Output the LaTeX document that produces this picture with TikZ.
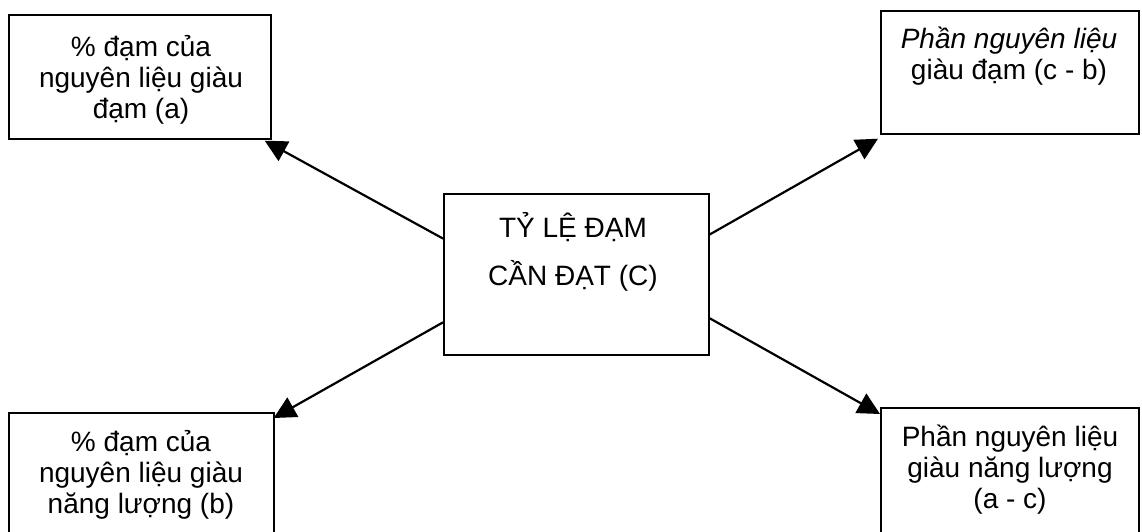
\documentclass[tikz,border=0pt]{standalone}
\usepackage{fontspec}
\setmainfont{Liberation Sans}
\usetikzlibrary{arrows.meta,calc}
\begin{document}
\begin{tikzpicture}[x=1pt,y=-1pt,
  box/.style={draw, line width=1.7pt, inner sep=0pt, anchor=north west},
  txt/.style={font=\fontsize{28}{31}\selectfont, align=center, anchor=base, inner sep=0pt},
  arr/.style={line width=2.2pt, -{Triangle[length=22pt,width=22pt]}}]
\useasboundingbox (0,0) rectangle (1142,531);
% boxes
\node[box, minimum width=262pt, minimum height=124pt] (tl) at (8,14) {};
\node[box, minimum width=258pt, minimum height=123pt] (tr) at (880,10) {};
\node[box, minimum width=265pt, minimum height=161pt] (c) at (443,193) {};
\node[box, minimum width=265pt, minimum height=140pt] (bl) at (8,412) {};
\node[box, minimum width=258pt, minimum height=145pt] (br) at (880,407) {};
% texts (anchor base = baseline of the last line)
\node[txt] (tlt) at (141,118) {\% đạm của\\nguyên liệu giàu\\đạm (a)};
\node[txt] (trt) at (1009,79) {\textit{Phần nguyên liệu}\\giàu đạm (c - b)};
\node[txt] (ct) at (573,285) {TỶ LỆ ĐẠM\\[17pt]CẦN ĐẠT (C)};
\node[txt] (blt) at (141,513) {\% đạm của\\nguyên liệu giàu\\năng lượng (b)};
\node[txt] (brt) at (1010,508) {Phần nguyên liệu\\giàu năng lượng\\(a - c)};
% connectors
\draw[arr] ($(c.north west)!0.28!(c.south west)$) -- ($(tl.south east)+(-7,1)$);
\draw[arr] ($(c.north east)!0.255!(c.south east)$) -- ($(tr.south west)+(-2,4)$);
\draw[arr] ($(c.north west)!0.795!(c.south west)$) -- ($(bl.north east)+(-1,6)$);
\draw[arr] ($(c.north east)!0.77!(c.south east)$) -- ($(br.north west)+(0,7)$);
\end{tikzpicture}
\end{document}
